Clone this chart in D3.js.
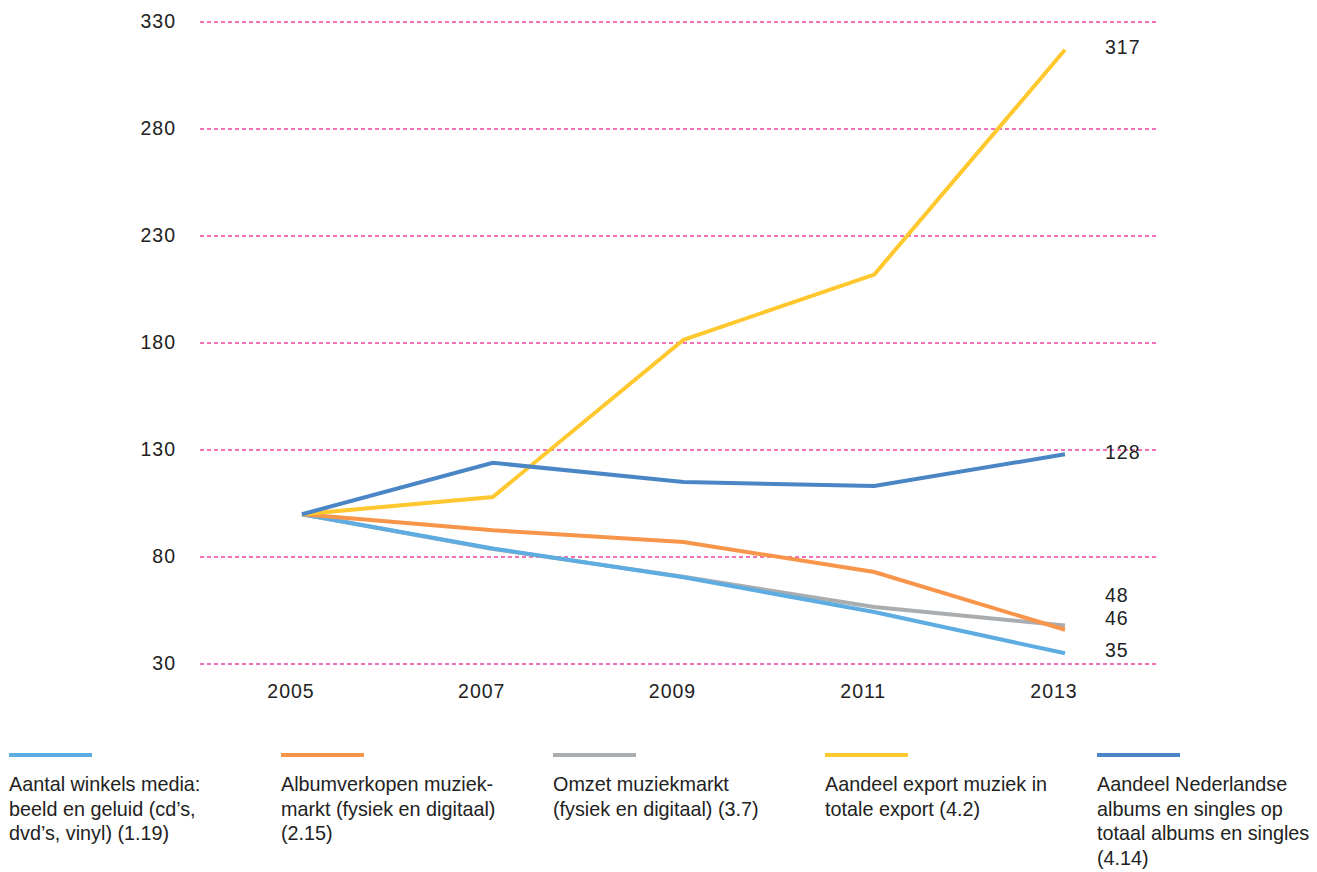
<!DOCTYPE html>
<html>
<head>
<meta charset="utf-8">
<script src="https://cdn.jsdelivr.net/npm/d3@7"></script>
<style>
  body { margin: 0; background: #fff; }
  svg { font-family: "Liberation Sans", Arial, sans-serif; }
  .tick-label { font-size: 19.5px; fill: #222; letter-spacing: 1px; }
  .legend-text { font-size: 19.8px; fill: #222; }
</style>
</head>
<body>
<svg id="chart"></svg>
<script>
  // data (index, 2005 = 100)
  let years = ['2005', '2007', '2009', '2011', '2013'];
  let yTicks = [30, 80, 130, 180, 230, 280, 330];

  let winkels = [100, 84, 70.5, 54.3, 35];
  let albumverkopen = [100, 92.5, 87, 73, 46];
  let omzet = [100, 83.7, 70.8, 56.6, 48];
  let exportAandeel = [100, 108, 181.5, 212, 317];
  let nederlands = [100, 124, 115, 113.2, 128];

  let seriesNames = [
    ['Aantal winkels media:', 'beeld en geluid (cd\u2019s,', 'dvd\u2019s, vinyl) (1.19)'],
    ['Albumverkopen muziek-', 'markt (fysiek en digitaal)', '(2.15)'],
    ['Omzet muziekmarkt', '(fysiek en digitaal) (3.7)'],
    ['Aandeel export muziek in', 'totale export (4.2)'],
    ['Aandeel Nederlandse', 'albums en singles op', 'totaal albums en singles', '(4.14)']
  ];
  let endLabels = ['35', '46', '48', '317', '128'];

  let colors = ['#5dade2', '#f7954a', '#a9adb0', '#ffc82e', '#4a86c5'];

  let series = [winkels, albumverkopen, omzet, exportAandeel, nederlands].map((values, i) => ({
    values: values,
    names: seriesNames[i],
    label: endLabels[i],
    color: colors[i]
  }));

  let width = 1317, height = 872;

  let grid = { left: 200, right: 1158 };
  let plot = { top: 22, bottom: 664, left: 302, right: 1065 };

  // small vertical nudges so the end labels don't collide
  let labelNudge = [-3, -12, -30, -3, -2];

  let svg = d3.select('#chart')
    .attr('width', width)
    .attr('height', height);

  let xScale = d3.scalePoint()
    .domain(years)
    .range([plot.left, plot.right]);

  let yScale = d3.scaleLinear()
    .domain([30, 330])
    .range([plot.bottom, plot.top]);

  // gridlines
  svg.append('g')
    .selectAll('line')
    .data(yTicks)
    .enter()
    .append('line')
    .attr('x1', grid.left)
    .attr('x2', grid.right)
    .attr('y1', d => yScale(d))
    .attr('y2', d => yScale(d))
    .attr('stroke', '#f0409e')
    .attr('stroke-width', 1.4)
    .attr('stroke-dasharray', '4,3');

  // y labels
  svg.append('g')
    .selectAll('text')
    .data(yTicks)
    .enter()
    .append('text')
    .attr('class', 'tick-label')
    .attr('x', 176)
    .attr('y', d => yScale(d) - 1)
    .attr('dy', '0.35em')
    .attr('text-anchor', 'end')
    .text(d => d);

  // x labels (sit a little left of the data points, as in the original)
  svg.append('g')
    .selectAll('text')
    .data(years)
    .enter()
    .append('text')
    .attr('class', 'tick-label')
    .attr('x', d => xScale(d) - 11)
    .attr('y', 691)
    .attr('dy', '0.35em')
    .attr('text-anchor', 'middle')
    .text(d => d);

  let line = d3.line()
    .x((d, i) => xScale(years[i]))
    .y(d => yScale(d));

  // draw order: grey/light blue underneath, blue on top
  let drawOrder = [2, 0, 1, 3, 4];

  svg.append('g')
    .selectAll('path')
    .data(drawOrder.map(i => series[i]))
    .enter()
    .append('path')
    .attr('d', d => line(d.values))
    .attr('fill', 'none')
    .attr('stroke', d => d.color)
    .attr('stroke-width', 4)
    .attr('stroke-linejoin', 'miter');

  // end labels
  svg.append('g')
    .selectAll('text')
    .data(series)
    .enter()
    .append('text')
    .attr('class', 'tick-label')
    .attr('x', 1105)
    .attr('y', (d, i) => yScale(d.values[d.values.length - 1]) + labelNudge[i])
    .attr('dy', '0.35em')
    .text(d => d.label);

  // legend
  let legend = svg.append('g')
    .selectAll('g')
    .data(series)
    .enter()
    .append('g')
    .attr('transform', (d, i) => `translate(${9 + i * 272}, 0)`);

  legend.append('rect')
    .attr('x', 0)
    .attr('y', 753)
    .attr('width', 83)
    .attr('height', 4)
    .attr('fill', d => d.color);

  legend.each(function (d) {
    let t = d3.select(this).append('text')
      .attr('class', 'legend-text')
      .attr('y', 791);
    d.names.forEach((n, j) => {
      t.append('tspan')
        .attr('x', 0)
        .attr('dy', j === 0 ? 0 : 24.6)
        .text(n);
    });
  });
</script>
</body>
</html>
